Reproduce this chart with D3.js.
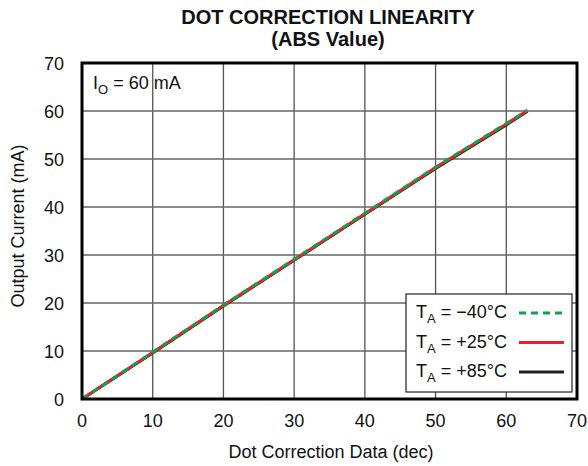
<!DOCTYPE html>
<html>
<head>
    <meta charset="utf-8">
    <title>Dot Correction Linearity</title>
    <script src="https://d3js.org/d3.v7.min.js"></script>
    <style>
        body { margin: 0; background: #fff; }
        text { font-family: "Liberation Sans", Arial, sans-serif; fill: #111; }
    </style>
</head>
<body>
    <svg id="chart" width="588" height="466"></svg>
    <script>
        // values
        const dcData = [0, 10, 20, 30, 40, 50, 60, 63];
        const currentM40 = [0, 9.75, 19.55, 29.1, 38.7, 48.3, 57.4, 60.15];
        const current25 = [0, 9.7, 19.5, 29.0, 38.6, 48.2, 57.3, 60.1];
        const current85 = [0, 9.6, 19.4, 28.9, 38.5, 48.0, 57.1, 59.95];
        const xTicks = [0, 10, 20, 30, 40, 50, 60, 70];
        const yTicks = [0, 10, 20, 30, 40, 50, 60, 70];

        const seriesNames = ["T_A = \u221240\u00b0C", "T_A = +25\u00b0C", "T_A = +85\u00b0C"];
        const seriesColors = ["#14a04a", "#e8202a", "#231f20"];
        const seriesDash = ["7,5", null, null];
        const seriesValues = [currentM40, current25, current85];

        const svg = d3.select("#chart");
        const pLeft = 82, pRight = 577, pTop = 63, pBottom = 399;

        const x = d3.scaleLinear().domain([0, 70]).range([pLeft, pRight]);
        const y = d3.scaleLinear().domain([0, 70]).range([pBottom, pTop]);

        // title
        svg.append("text").attr("x", 328).attr("y", 24).attr("text-anchor", "middle")
            .style("font-size", "20px").style("font-weight", "bold").text("DOT CORRECTION LINEARITY");
        svg.append("text").attr("x", 328).attr("y", 46).attr("text-anchor", "middle")
            .style("font-size", "20px").style("font-weight", "bold").text("(ABS Value)");

        // grid
        svg.append("g").selectAll("line").data(xTicks.slice(1, -1)).join("line")
            .attr("x1", d => x(d)).attr("x2", d => x(d)).attr("y1", pTop).attr("y2", pBottom)
            .attr("stroke", "#555").attr("stroke-width", 1.3);
        svg.append("g").selectAll("line").data(yTicks.slice(1, -1)).join("line")
            .attr("y1", d => y(d)).attr("y2", d => y(d)).attr("x1", pLeft).attr("x2", pRight)
            .attr("stroke", "#666").attr("stroke-width", 1.3);

        // tick labels
        svg.append("g").selectAll("text").data(xTicks).join("text")
            .attr("x", d => x(d)).attr("y", pBottom + 28).attr("text-anchor", "middle")
            .style("font-size", "18px").text(d => d);
        svg.append("g").selectAll("text").data(yTicks).join("text")
            .attr("x", pLeft - 18).attr("y", d => y(d) + 7).attr("text-anchor", "end")
            .style("font-size", "18px").text(d => d);

        // axis titles
        svg.append("text").attr("x", 331).attr("y", 458).attr("text-anchor", "middle")
            .style("font-size", "18px").text("Dot Correction Data (dec)");
        svg.append("text").attr("transform", "translate(24,226) rotate(-90)")
            .attr("text-anchor", "middle").style("font-size", "18px").text("Output Current (mA)");

        // lines (black underneath, red, then green dashed on top)
        const line = d3.line().x((d, i) => x(dcData[i])).y(d => y(d));
        [2, 1, 0].forEach(k => {
            svg.append("path").datum(seriesValues[k])
                .attr("d", line).attr("fill", "none")
                .attr("stroke", seriesColors[k]).attr("stroke-width", 3)
                .attr("stroke-dasharray", seriesDash[k]);
        });

        // frame
        svg.append("rect").attr("x", pLeft).attr("y", pTop).attr("width", pRight - pLeft).attr("height", pBottom - pTop)
            .attr("fill", "none").attr("stroke", "#000").attr("stroke-width", 3);

        // annotation
        const ann = svg.append("text").attr("x", 93).attr("y", 89).style("font-size", "18px");
        ann.append("tspan").text("I");
        ann.append("tspan").attr("dy", 5).style("font-size", "13px").text("O");
        ann.append("tspan").attr("dy", -5).text(" = 60 mA");

        // legend
        const lg = svg.append("g");
        lg.append("rect").attr("x", 406).attr("y", 294).attr("width", 166).attr("height", 98)
            .attr("fill", "#fff").attr("stroke", "#222").attr("stroke-width", 1.2);
        seriesNames.forEach((name, i) => {
            const ly = 313 + i * 29.5;
            const t = lg.append("text").attr("x", 416).attr("y", ly + 5).style("font-size", "18px");
            t.append("tspan").text("T");
            t.append("tspan").attr("dy", 5).style("font-size", "13px").text("A");
            t.append("tspan").attr("dy", -5).text(name.slice(3));
            lg.append("line").attr("x1", 519).attr("x2", 564).attr("y1", ly).attr("y2", ly)
                .attr("stroke", seriesColors[i]).attr("stroke-width", 3)
                .attr("stroke-dasharray", seriesDash[i]);
        });
    </script>
</body>
</html>
